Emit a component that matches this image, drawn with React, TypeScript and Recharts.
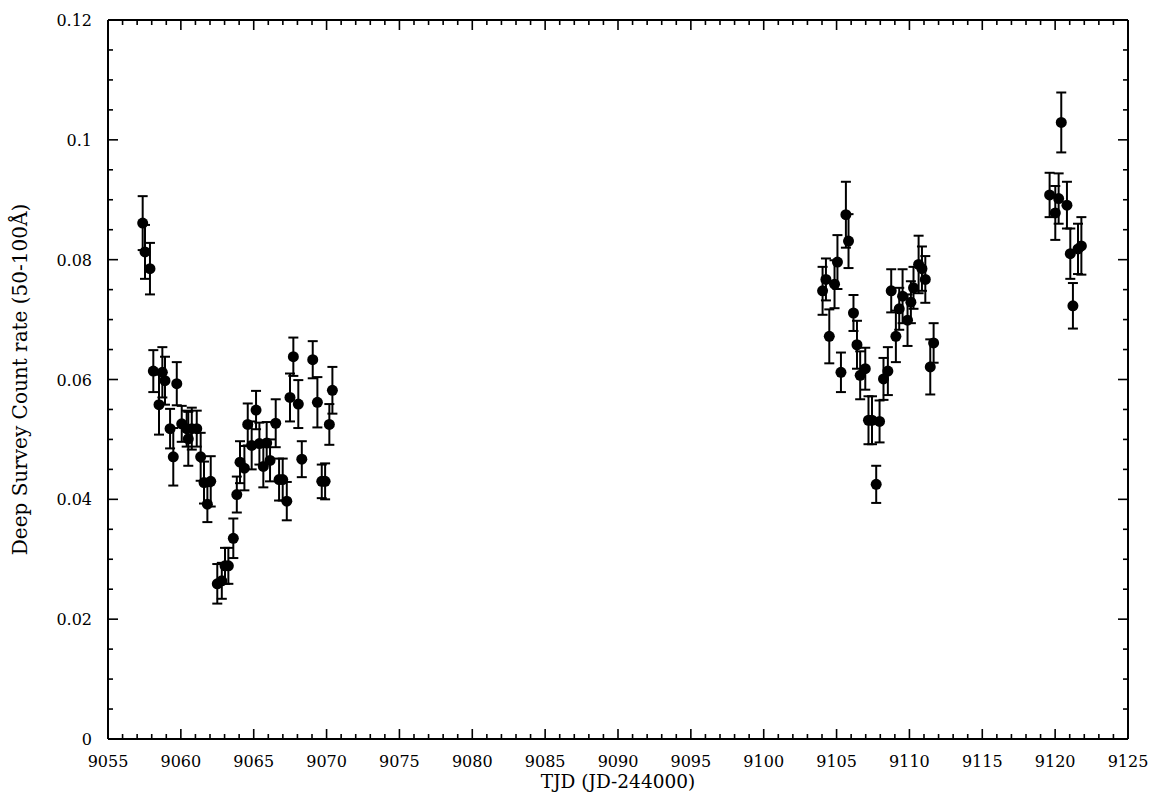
import { ErrorBar, Scatter, ScatterChart, XAxis, YAxis } from "recharts";

// TJD of each observation
const tjd = [
  9057.38, 9057.54, 9057.88, 9058.11, 9058.5, 9058.73, 9058.91, 9059.26, 9059.48, 9059.72,
  9060.06, 9060.4, 9060.51, 9060.75, 9061.09, 9061.36, 9061.59, 9061.82, 9062.05, 9062.5,
  9062.81, 9063.03, 9063.26, 9063.6, 9063.84, 9064.06, 9064.36, 9064.59, 9064.86, 9065.16,
  9065.39, 9065.66, 9065.89, 9066.12, 9066.51, 9066.74, 9066.99, 9067.27, 9067.49, 9067.72,
  9068.06, 9068.3, 9069.05, 9069.37, 9069.67, 9069.9, 9070.19, 9070.4,
  9104.04, 9104.27, 9104.5, 9104.86, 9105.06, 9105.3, 9105.64, 9105.82, 9106.16, 9106.4,
  9106.62, 9106.97, 9107.19, 9107.43, 9107.72, 9107.95, 9108.22, 9108.52, 9108.75, 9109.07,
  9109.3, 9109.53, 9109.87, 9110.1, 9110.28, 9110.63, 9110.86, 9111.09, 9111.43, 9111.66,
  9119.62, 9120.01, 9120.24, 9120.42, 9120.81, 9121.04, 9121.22, 9121.57, 9121.8,
];

// count rate (50-100 A)
const rate = [
  0.0861, 0.0813, 0.0785, 0.0614, 0.0558, 0.0612, 0.0598, 0.0518, 0.0471, 0.0593,
  0.0526, 0.0518, 0.0501, 0.0518, 0.0518, 0.0471, 0.0428, 0.0392, 0.043, 0.0259,
  0.0264, 0.0289, 0.0289, 0.0335, 0.0408, 0.0462, 0.0452, 0.0525, 0.049, 0.0549,
  0.0493, 0.0455, 0.0494, 0.0465, 0.0527, 0.0433, 0.0433, 0.0397, 0.057, 0.0638,
  0.0559, 0.0467, 0.0633, 0.0562, 0.043, 0.043, 0.0525, 0.0582,
  0.0748, 0.0767, 0.0672, 0.0759, 0.0796, 0.0612, 0.0875, 0.0831, 0.0711, 0.0658,
  0.0607, 0.0618, 0.0532, 0.0532, 0.0425, 0.053, 0.0601, 0.0614, 0.0748, 0.0672,
  0.0718, 0.0739, 0.0699, 0.0729, 0.0753, 0.0792, 0.0785, 0.0767, 0.0621, 0.0661,
  0.0908, 0.0878, 0.0902, 0.1029, 0.0891, 0.081, 0.0723, 0.0818, 0.0823,
];

// 1-sigma errors
const rateErr = [
  0.0045, 0.0045, 0.0043, 0.0035, 0.005, 0.0042, 0.004, 0.0033, 0.0048, 0.0036,
  0.003, 0.003, 0.0045, 0.0035, 0.003, 0.004, 0.0035, 0.003, 0.0042, 0.0033,
  0.003, 0.003, 0.003, 0.0033, 0.003, 0.0035, 0.0037, 0.0035, 0.004, 0.0032,
  0.0035, 0.0035, 0.0035, 0.0035, 0.004, 0.0035, 0.0035, 0.0032, 0.004, 0.0032,
  0.004, 0.003, 0.0031, 0.0042, 0.0028, 0.003, 0.0034, 0.0039,
  0.004, 0.0035, 0.0045, 0.004, 0.0045, 0.0033, 0.0055, 0.0045, 0.003, 0.004,
  0.004, 0.0035, 0.004, 0.004, 0.0031, 0.0035, 0.0035, 0.004, 0.0036, 0.0043,
  0.0035, 0.0045, 0.0043, 0.0035, 0.0035, 0.0048, 0.0037, 0.0039, 0.0046, 0.0033,
  0.0037, 0.0045, 0.0042, 0.005, 0.0039, 0.0042, 0.0038, 0.0042, 0.0048,
];

const xMajorTicks = [9055, 9060, 9065, 9070, 9075, 9080, 9085, 9090, 9095, 9100, 9105, 9110, 9115, 9120, 9125];
const yMajorTicks = [0, 0.02, 0.04, 0.06, 0.08, 0.1, 0.12];

// minor ticks: every day on x, every 0.005 on y
const xTicks: number[] = [];
for (let v = 9055; v <= 9125; v++) xTicks.push(v);
const yTicks: number[] = [];
for (let i = 0; i <= 24; i++) yTicks.push(Number((i * 0.005).toFixed(3)));

const data = tjd.map((t, i) => ({ tjd: t, rate: rate[i], err: rateErr[i] }));

const font = "'DejaVu Serif', 'Liberation Serif', serif";
const ink = "#000";

const isMajor = (v: number, list: number[]) => list.some((m) => Math.abs(m - v) < 1e-9);

function XTick(props: any) {
  const { x, y, payload, orient } = props;
  const major = isMajor(payload.value, xMajorTicks);
  const len = major ? 10 : 5;
  const dir = orient === "bottom" ? -1 : 1;
  return (
    <g>
      <line x1={x} x2={x} y1={y} y2={y + dir * len} stroke={ink} strokeWidth={1.6} />
      {orient === "bottom" && major ? (
        <text x={x} y={y + 28} textAnchor="middle" fontFamily={font} fontSize={16} fill={ink}>
          {payload.value}
        </text>
      ) : null}
    </g>
  );
}

function YTick(props: any) {
  const { x, y, payload, orient } = props;
  const major = isMajor(payload.value, yMajorTicks);
  const len = major ? 10 : 5;
  const dir = orient === "left" ? 1 : -1;
  return (
    <g>
      <line x1={x} x2={x + dir * len} y1={y} y2={y} stroke={ink} strokeWidth={1.6} />
      {orient === "left" && major ? (
        <text x={x - 16} y={y + 6} textAnchor="end" fontFamily={font} fontSize={16} fill={ink}>
          {String(payload.value)}
        </text>
      ) : null}
    </g>
  );
}

const dot = (p: any) => <circle cx={p.cx} cy={p.cy} r={5.5} fill={ink} />;
const noDot = () => <g />;

export default function App() {
  return (
    <div style={{ position: "absolute", left: 0, top: 0, width: 1151, height: 794, background: "#fff" }}>
      <ScatterChart width={1151} height={794} margin={{ top: 19, right: 22, bottom: 0, left: 0 }}>
        <XAxis
          xAxisId="bottom"
          type="number"
          dataKey="tjd"
          orientation="bottom"
          domain={[9055, 9125]}
          ticks={xTicks}
          interval={0}
          height={55}
          tickSize={0}
          tickMargin={0}
          tickLine={false}
          axisLine={{ stroke: ink, strokeWidth: 2 }}
          tick={(p: any) => <XTick {...p} orient="bottom" />}
          label={{
            value: "TJD (JD-244000)",
            position: "insideBottom",
            offset: 6,
            style: { fontFamily: font, fontSize: 18.5, fill: ink },
          }}
        />
        <XAxis
          xAxisId="top"
          type="number"
          dataKey="tjd"
          orientation="top"
          domain={[9055, 9125]}
          ticks={xTicks}
          interval={0}
          height={1}
          tickSize={0}
          tickMargin={0}
          tickLine={false}
          axisLine={{ stroke: ink, strokeWidth: 2 }}
          tick={(p: any) => <XTick {...p} orient="top" />}
        />
        <YAxis
          yAxisId="left"
          type="number"
          dataKey="rate"
          orientation="left"
          domain={[0, 0.12]}
          ticks={yTicks}
          interval={0}
          width={108}
          tickSize={0}
          tickMargin={0}
          tickLine={false}
          axisLine={{ stroke: ink, strokeWidth: 2 }}
          tick={(p: any) => <YTick {...p} orient="left" />}
          label={{
            value: "Deep Survey Count rate (50-100Å)",
            angle: -90,
            position: "insideLeft",
            offset: 20,
            style: { fontFamily: font, fontSize: 20, fill: ink, textAnchor: "middle" },
          }}
        />
        <YAxis
          yAxisId="right"
          type="number"
          dataKey="rate"
          orientation="right"
          domain={[0, 0.12]}
          ticks={yTicks}
          interval={0}
          width={1}
          tickSize={0}
          tickMargin={0}
          tickLine={false}
          axisLine={{ stroke: ink, strokeWidth: 2 }}
          tick={(p: any) => <YTick {...p} orient="right" />}
        />
        <Scatter
          data={data}
          xAxisId="top"
          yAxisId="right"
          dataKey="rate"
          shape={noDot}
          isAnimationActive={false}
        />
        <Scatter
          data={data}
          xAxisId="bottom"
          yAxisId="left"
          dataKey="rate"
          fill={ink}
          shape={dot}
          isAnimationActive={false}
        >
          <ErrorBar dataKey="err" direction="y" width={5} stroke={ink} strokeWidth={2} isAnimationActive={false} />
        </Scatter>
      </ScatterChart>
    </div>
  );
}
